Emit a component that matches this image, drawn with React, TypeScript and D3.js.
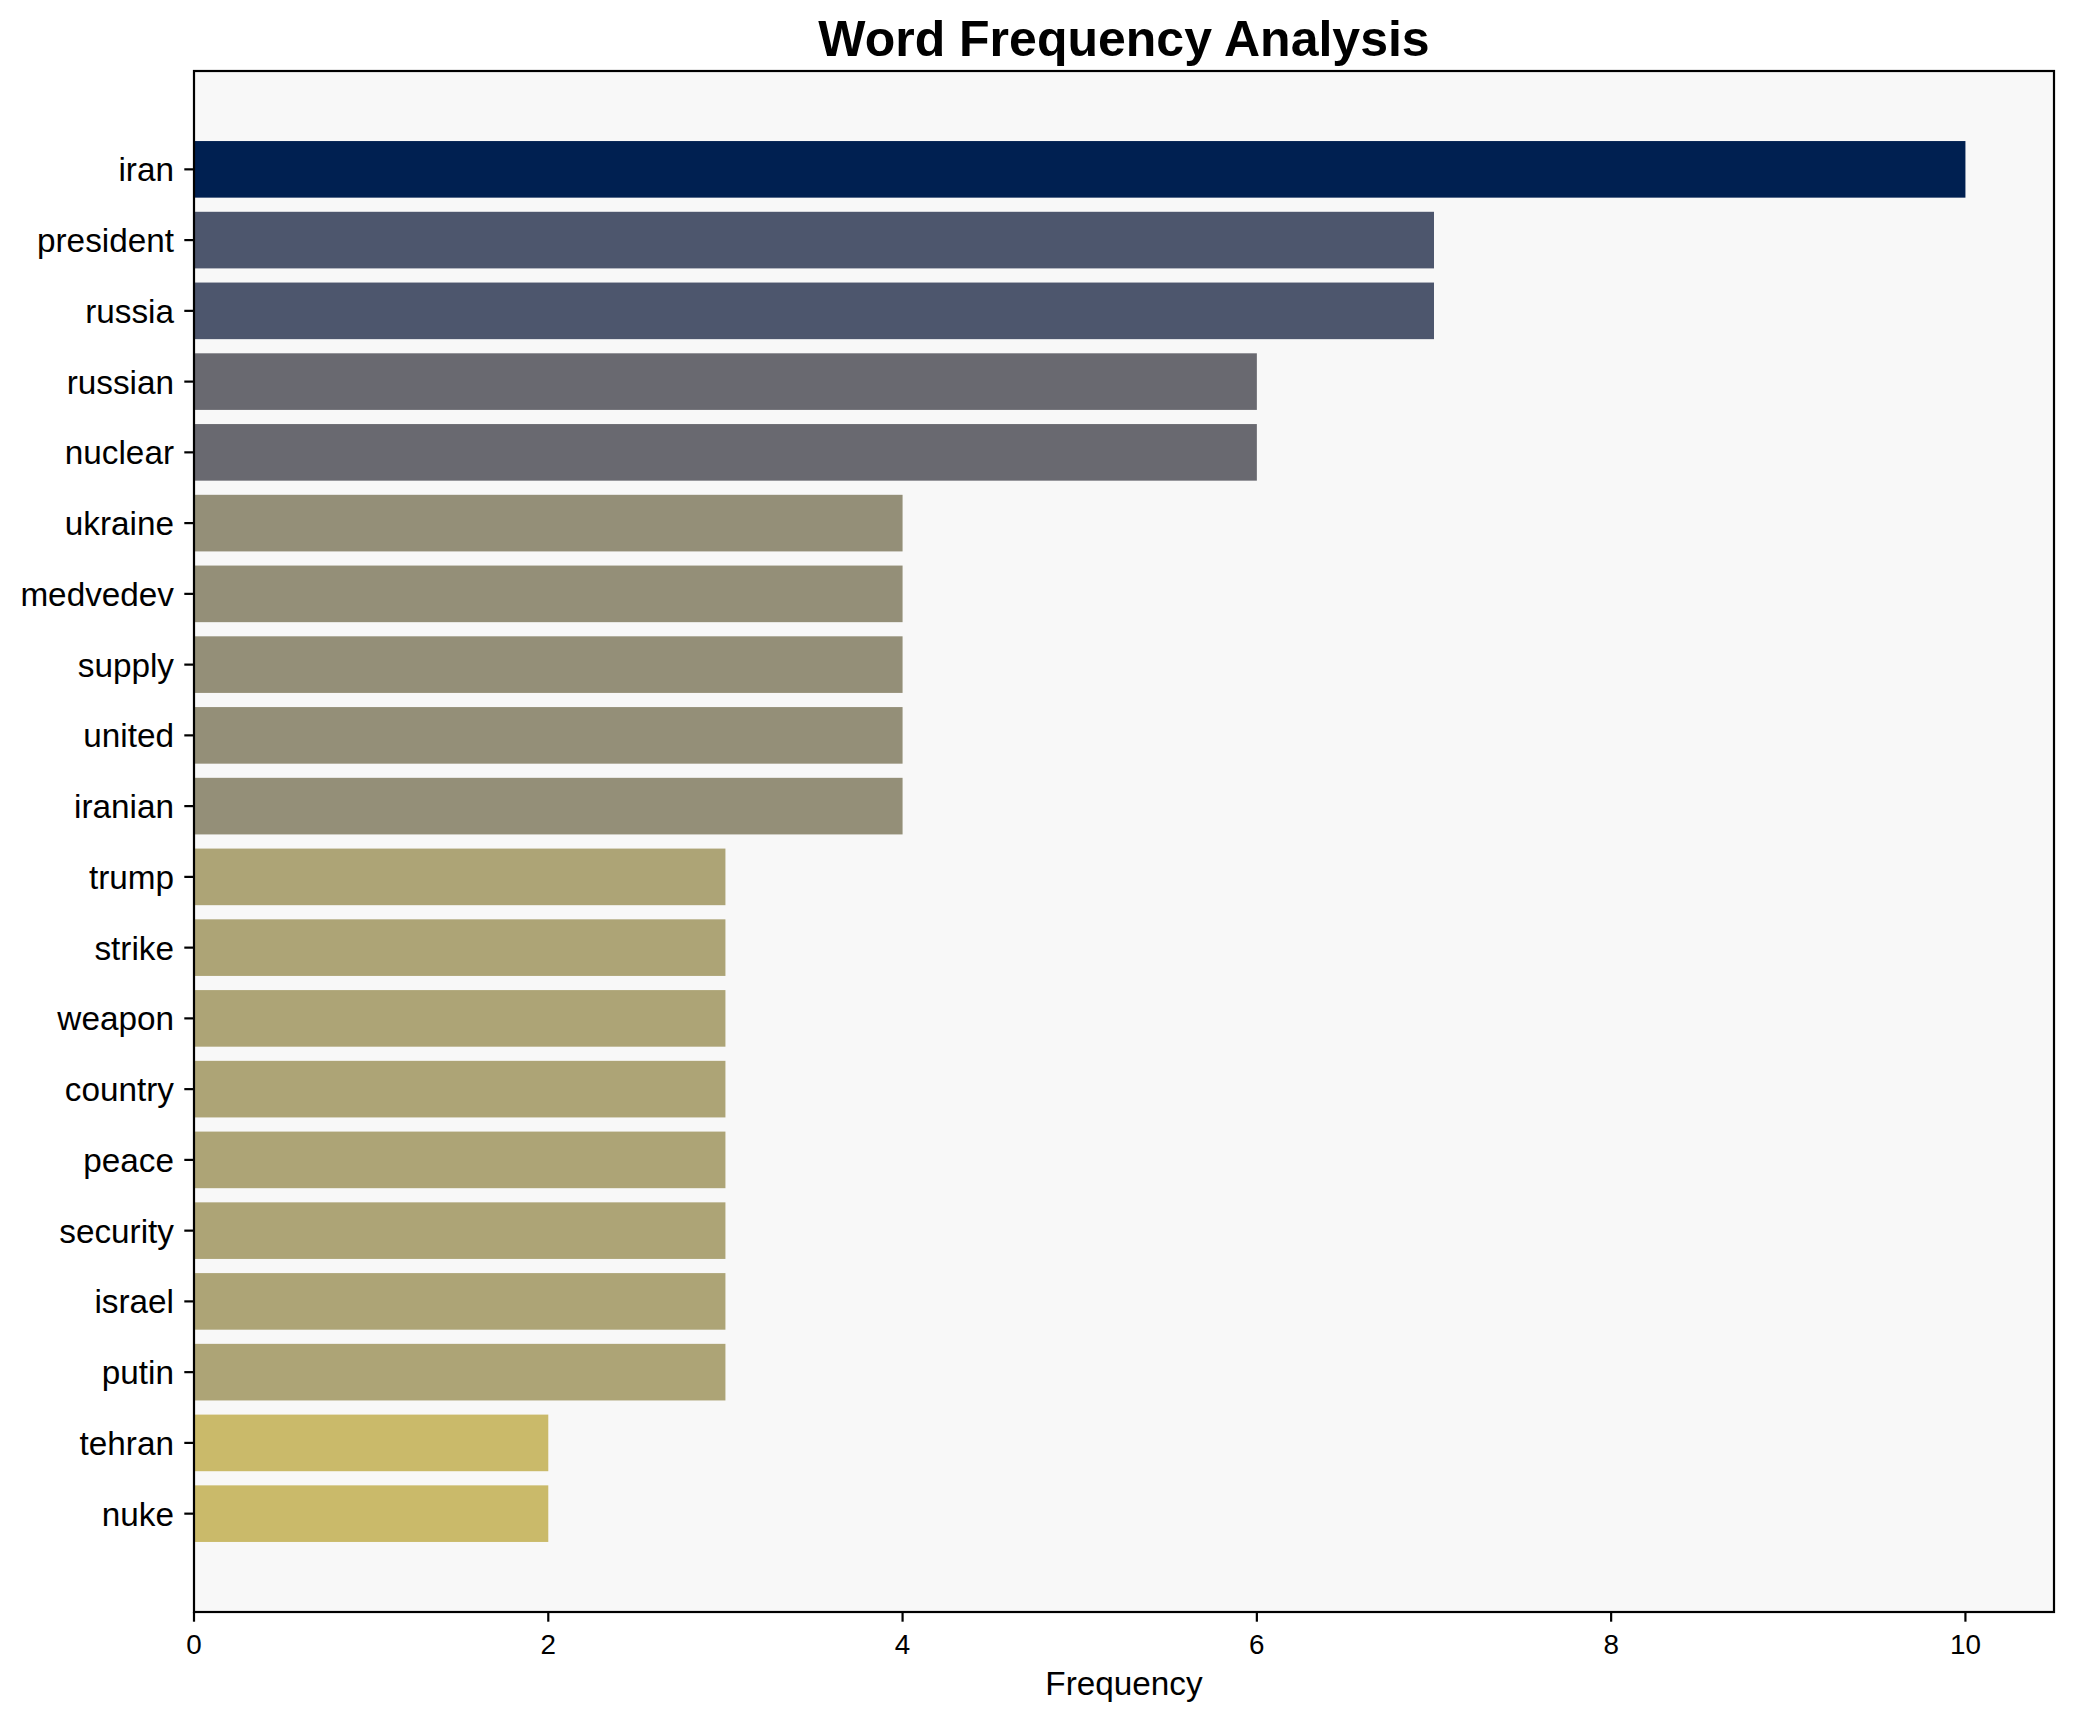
import React, { useEffect } from 'react';
import * as d3 from 'd3';

const WORDS = [
  'iran', 'president', 'russia', 'russian', 'nuclear',
  'ukraine', 'medvedev', 'supply', 'united', 'iranian',
  'trump', 'strike', 'weapon', 'country', 'peace',
  'security', 'israel', 'putin', 'tehran', 'nuke'
];
const COUNTS = [10, 7, 7, 6, 6, 4, 4, 4, 4, 4, 3, 3, 3, 3, 3, 3, 3, 3, 2, 2];
const X_TICKS = [0, 2, 4, 6, 8, 10];

const W = 2073;
const H = 1722;
const M = { left: 194, right: 2054, top: 71, bottom: 1612 };
const FONT = '"Liberation Sans", Arial, Helvetica, sans-serif';

export default function App() {
  useEffect(() => {
    document.body.style.margin = '0';
  }, []);

  const maxVal = d3.max(COUNTS) ?? 1;
  const x = d3.scaleLinear().domain([0, maxVal * 1.05]).range([M.left, M.right]);
  // matplotlib-style: bars of height 0.8 centred on integer positions, 5% margins
  const n = WORDS.length;
  const lo = -0.4, hi = n - 1 + 0.4;
  const pad = (hi - lo) * 0.05;
  const y = d3.scaleLinear().domain([lo - pad, hi + pad]).range([M.top, M.bottom]);
  const bandH = y(0.4) - y(-0.4);
  const color = (v: number) => d3.interpolateCividis(1 - v / maxVal);

  return (
    <svg width={W} height={H} style={{ display: 'block', background: '#fff' }} fontFamily={FONT}>
      <rect x={M.left} y={M.top} width={M.right - M.left} height={M.bottom - M.top} fill="#f8f8f8" />

      {WORDS.map((w, i) => (
        <rect
          key={w}
          x={x(0)}
          y={y(i) - bandH / 2}
          width={x(COUNTS[i]) - x(0)}
          height={bandH}
          fill={color(COUNTS[i])}
        />
      ))}

      {/* spines */}
      <rect
        x={M.left}
        y={M.top}
        width={M.right - M.left}
        height={M.bottom - M.top}
        fill="none"
        stroke="#000"
        strokeWidth={2.2}
      />

      {/* y ticks */}
      {WORDS.map((w, i) => (
        <g key={'yt' + w}>
          <line x1={M.left - 9.7} x2={M.left} y1={y(i)} y2={y(i)} stroke="#000" strokeWidth={2.2} />
          <text x={M.left - 20} y={y(i) + 12} textAnchor="end" fontSize={33.3} fill="#000">
            {w}
          </text>
        </g>
      ))}

      {/* x ticks */}
      {X_TICKS.map(t => (
        <g key={'xt' + t}>
          <line x1={x(t)} x2={x(t)} y1={M.bottom} y2={M.bottom + 9.7} stroke="#000" strokeWidth={2.2} />
          <text x={x(t)} y={1654} textAnchor="middle" fontSize={27.8} fill="#000">
            {t}
          </text>
        </g>
      ))}

      <text x={(M.left + M.right) / 2} y={1695} textAnchor="middle" fontSize={33.3} fill="#000">
        Frequency
      </text>

      <text
        x={(M.left + M.right) / 2}
        y={56}
        textAnchor="middle"
        fontSize={50}
        fontWeight="bold"
        fill="#000"
      >
        Word Frequency Analysis
      </text>
    </svg>
  );
}
